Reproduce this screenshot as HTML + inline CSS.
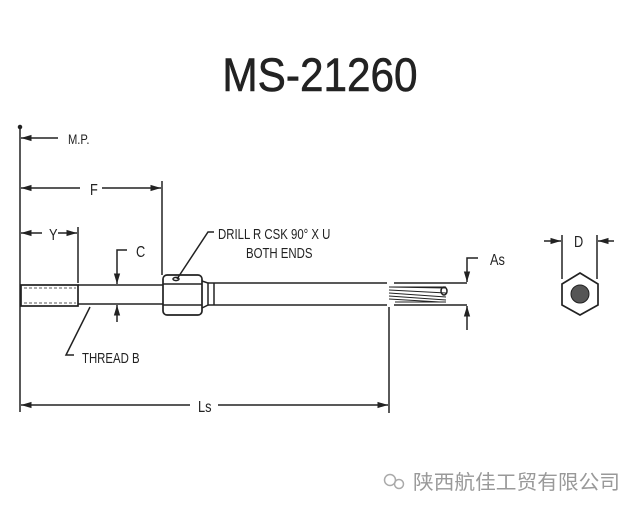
<!DOCTYPE html>
<html><head><style>
html,body{margin:0;padding:0;background:#fff;width:640px;height:512px;overflow:hidden}
svg text{font-family:"Liberation Sans",sans-serif;fill:#222}
</style></head><body>
<svg width="640" height="512" viewBox="0 0 640 512" xmlns="http://www.w3.org/2000/svg">
<defs><marker id="a" viewBox="0 0 10 10" refX="10" refY="5" markerWidth="7" markerHeight="7" orient="auto-start-reverse"><path d="M0,2 L10,5 L0,8 z" fill="#222"/></marker></defs>
<text x="320" y="91" font-size="47" text-anchor="middle" stroke="#222" stroke-width="0.6" transform="translate(320,0) scale(0.9,1) translate(-320,0)">MS-21260</text>
<g stroke="#222" stroke-width="1.5" fill="none">
<line x1="20" y1="127" x2="20" y2="412"/>
<circle cx="20" cy="127" r="1.5" fill="#222"/>
<line x1="58" y1="138" x2="21" y2="138" marker-end="url(#a)"/>
<line x1="80" y1="188" x2="21" y2="188" marker-end="url(#a)"/>
<line x1="102" y1="188" x2="161" y2="188" marker-end="url(#a)"/>
<line x1="162" y1="181" x2="162" y2="275"/>
<line x1="42" y1="233" x2="21" y2="233" marker-end="url(#a)"/>
<line x1="58" y1="233" x2="77" y2="233" marker-end="url(#a)"/>
<line x1="78" y1="227" x2="78" y2="283"/>
<rect x="21" y="285" width="57" height="21" stroke-width="1.7"/>
<line x1="24" y1="288" x2="76" y2="288" stroke-dasharray="3 2" stroke-width="0.8"/>
<line x1="24" y1="303" x2="76" y2="303" stroke-dasharray="3 2" stroke-width="0.8"/>
<line x1="78" y1="285" x2="163" y2="285"/>
<line x1="78" y1="304" x2="163" y2="304"/>
<polyline points="127,250 117,250 117,284" marker-end="url(#a)"/>
<line x1="117" y1="322" x2="117" y2="305" marker-end="url(#a)"/>
<rect x="163" y="275" width="39" height="40" rx="4" stroke-width="1.7"/>
<line x1="163" y1="284" x2="202" y2="284"/>
<line x1="163" y1="305" x2="202" y2="305"/>
<ellipse cx="176" cy="279" rx="3" ry="1.6"/>
<polyline points="214,232 208,232 177,279"/>
<path d="M202,281 L208,283 L208,305 L202,308"/>
<line x1="208" y1="283" x2="214" y2="283"/><line x1="208" y1="305" x2="214" y2="305"/>
<line x1="214" y1="283" x2="214" y2="305"/>
<line x1="214" y1="283" x2="387" y2="283"/>
<line x1="214" y1="305" x2="387" y2="305"/>
<line x1="394" y1="283" x2="467" y2="283"/>
<line x1="394" y1="305" x2="467" y2="305"/>
<g stroke-width="0.9">
<line x1="389" y1="287" x2="446" y2="288"/><line x1="389" y1="290" x2="446" y2="293"/>
<line x1="389" y1="293" x2="446" y2="297"/><line x1="389" y1="296" x2="446" y2="300"/>
<line x1="389" y1="299" x2="440" y2="302"/><line x1="395" y1="302" x2="446" y2="302"/>
<line x1="389" y1="287" x2="446" y2="287"/>
</g>
<ellipse cx="444" cy="291" rx="3" ry="4"/>
<polyline points="478,258 467,258 467,282" marker-end="url(#a)"/>
<line x1="467" y1="330" x2="467" y2="306" marker-end="url(#a)"/>
<line x1="389" y1="307" x2="389" y2="413"/>
<line x1="190" y1="405" x2="21" y2="405" marker-end="url(#a)"/>
<line x1="218" y1="405" x2="388" y2="405" marker-end="url(#a)"/>
<polyline points="74,355 66,355 90,307"/>
<line x1="562" y1="235" x2="562" y2="279"/>
<line x1="597" y1="235" x2="597" y2="279"/>
<line x1="544" y1="241" x2="561" y2="241" marker-end="url(#a)"/>
<line x1="614" y1="241" x2="598" y2="241" marker-end="url(#a)"/>
<polygon points="580,273 598,284 598,305 580,315 562,305 562,284" stroke-width="1.7"/>
</g>
<circle cx="580" cy="294" r="9" fill="#555" stroke="#222"/>
<text x="68" y="144" font-size="14" transform="translate(68,0) scale(0.8,1) translate(-68,0)">M.P.</text>
<text x="90" y="195" font-size="16" transform="translate(90,0) scale(0.8,1) translate(-90,0)">F</text>
<text x="49" y="240" font-size="16" transform="translate(49,0) scale(0.8,1) translate(-49,0)">Y</text>
<text x="136" y="257" font-size="16" transform="translate(136,0) scale(0.8,1) translate(-136,0)">C</text>
<text x="218" y="239" font-size="15" transform="translate(218,0) scale(0.76,1) translate(-218,0)">DRILL R CSK 90° X U</text>
<text x="246" y="258" font-size="15" transform="translate(246,0) scale(0.76,1) translate(-246,0)">BOTH ENDS</text>
<text x="490" y="265" font-size="16" transform="translate(490,0) scale(0.8,1) translate(-490,0)">As</text>
<text x="574" y="247" font-size="16" transform="translate(574,0) scale(0.8,1) translate(-574,0)">D</text>
<text x="82" y="363" font-size="15" transform="translate(82,0) scale(0.76,1) translate(-82,0)">THREAD B</text>
<text x="198" y="412" font-size="16" transform="translate(198,0) scale(0.8,1) translate(-198,0)">Ls</text>
<circle cx="390" cy="480" r="5.5" fill="none" stroke="#aaa" stroke-width="1.5"/>
<circle cx="399" cy="484" r="4.5" fill="none" stroke="#aaa" stroke-width="1.5"/>
<text x="413" y="489" font-size="20" textLength="207" lengthAdjust="spacingAndGlyphs" style="font-family:'Liberation Sans','Noto Sans CJK SC',sans-serif;fill:#999">陕西航佳工贸有限公司</text>
</svg>
</body></html>
